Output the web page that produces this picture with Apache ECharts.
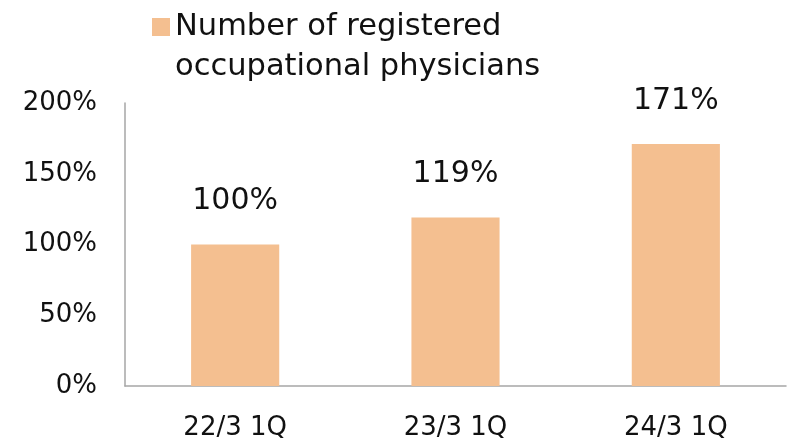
<!DOCTYPE html>
<html>
<head>
<meta charset="utf-8">
<script src="https://cdn.jsdelivr.net/npm/echarts@6/dist/echarts.min.js"></script>
<style>
  html, body { margin: 0; padding: 0; background: #fff; }
  #main { width: 791px; height: 441px; }
</style>
</head>
<body>
<div id="main"></div>
<script>
const categories = ['22/3 1Q', '23/3 1Q', '24/3 1Q'];
const physicians = [100, 119, 171];
const yTicks = [0, 50, 100, 150, 200];

const seriesName = 'Number of registered\noccupational physicians';
const font = '"DejaVu Sans", Verdana, sans-serif';

let chart = echarts.init(document.getElementById('main'), null, { renderer: 'canvas' });

chart.setOption({
  animation: false,
  textStyle: { fontFamily: font },
  legend: {
    left: 152,
    top: -33,
    padding: 0,
    itemWidth: 18,
    itemHeight: 18,
    itemGap: 0,
    // blank first line keeps the swatch next to the first text line
    formatter: name => '\n' + name,
    textStyle: {
      fontSize: 30.5,
      lineHeight: 40,
      color: '#111',
      fontFamily: font
    },
    data: [{ name: seriesName, icon: 'rect' }]
  },
  grid: { left: 125, right: 5, top: 103, bottom: 55 },
  xAxis: {
    type: 'category',
    data: categories,
    axisLine: { lineStyle: { color: '#a6a6a6', width: 1.5 } },
    axisTick: { show: false },
    axisLabel: { fontSize: 26, color: '#111', margin: 29, fontFamily: font }
  },
  yAxis: {
    type: 'value',
    min: yTicks[0],
    max: yTicks[yTicks.length - 1],
    interval: 50,
    axisLine: { show: true, lineStyle: { color: '#a6a6a6', width: 1.5 } },
    axisTick: { show: false },
    splitLine: { show: false },
    axisLabel: {
      fontSize: 26,
      color: '#111',
      margin: 28,
      padding: [8, 0, 0, 0],
      fontFamily: font,
      formatter: v => v + '%'
    }
  },
  series: [{
    name: seriesName,
    type: 'bar',
    data: physicians,
    barWidth: '40%',
    itemStyle: { color: '#f4bf90' },
    label: {
      show: true,
      position: 'top',
      distance: 28,
      fontSize: 30,
      color: '#111',
      fontFamily: font,
      formatter: p => p.value + '%'
    }
  }]
});
</script>
</body>
</html>
